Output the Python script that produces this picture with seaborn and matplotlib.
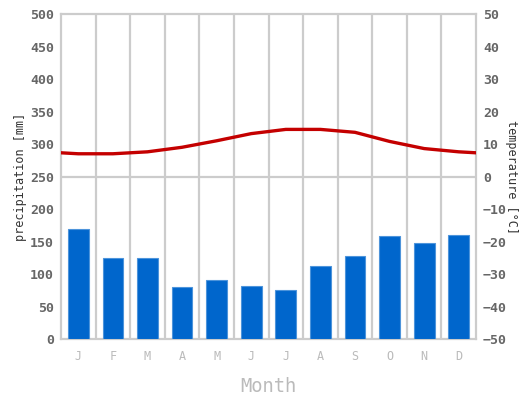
"""Climate chart: monthly precipitation bars with temperature line."""

import pandas as pd
import matplotlib.pyplot as plt
import seaborn as sns

months = ['J', 'F', 'M', 'A', 'M', 'J', 'J', 'A', 'S', 'O', 'N', 'D']
precipitation = [169, 125, 125, 80, 91, 82, 75, 113, 127, 158, 148, 160]
temperature = [7.0, 7.0, 7.6, 9.0, 11.0, 13.2, 14.5, 14.5, 13.6, 10.8, 8.6, 7.6]
precip_ticks = list(range(0, 501, 50))
temp_ticks = list(range(-50, 51, 10))

BAR_COLOR = '#0066cc'
LINE_COLOR = '#c40000'
GRID_COLOR = '#cccccc'
TICK_COLOR = '#666666'
MONTH_COLOR = '#bbbbbb'
FONT = 'DejaVu Sans Mono'

sns.set_style('white')
plt.rcParams['font.family'] = [FONT, 'DejaVu Sans']

pos = list(range(len(months)))
bars = pd.DataFrame({'pos': pos, 'precip': precipitation})

# temperature line runs edge to edge; edges use the Dec/Jan average
edge = (temperature[0] + temperature[-1]) / 2
line = pd.DataFrame({
    'pos': [-0.5] + pos + [len(months) - 0.5],
    'temp': [edge] + temperature + [edge],
})

fig = plt.figure(figsize=(5.26, 4.01), dpi=100)
ax = fig.add_axes([0.116, 0.1546, 0.789, 0.8104])

sns.barplot(data=bars, x='pos', y='precip', color=BAR_COLOR, width=0.6,
            edgecolor='#4d94db', linewidth=0.8, saturation=1, ax=ax,
            native_scale=True, zorder=3)
ax.set_xlim(-0.5, len(months) - 0.5)
ax.set_ylim(0, 500)

# grid: month separators and the middle line
for b in range(1, len(months)):
    ax.axvline(b - 0.5, color=GRID_COLOR, lw=1.6, zorder=1)
ax.axhline(250, color=GRID_COLOR, lw=1.6, zorder=1)
for s in ax.spines.values():
    s.set_color(GRID_COLOR)
    s.set_linewidth(1.6)

ax.set_xticks(pos)
ax.set_xticklabels(months, color=MONTH_COLOR, fontsize=8.5)
ax.set_yticks(precip_ticks)
ax.set_yticklabels([str(t) for t in precip_ticks], color=TICK_COLOR,
                   fontsize=9.5, fontweight='bold')
ax.tick_params(length=0, pad=5)
ax.tick_params(axis='x', pad=8)
ax.set_xlabel('Month', color=MONTH_COLOR, fontsize=13.5, labelpad=10)
ax.set_ylabel('precipitation [mm]', color='#333333', fontsize=8.5, labelpad=2)

ax2 = ax.twinx()
sns.lineplot(data=line, x='pos', y='temp', color=LINE_COLOR, lw=2.4, ax=ax2)
ax2.set_xlim(-0.5, len(months) - 0.5)
ax2.set_ylim(-50, 50)
ax2.set_yticks(temp_ticks)
ax2.set_yticklabels([str(t).replace('-', '\u2212') for t in temp_ticks],
                    color=TICK_COLOR, fontsize=9.5, fontweight='bold')
ax2.tick_params(length=0, pad=5)
ax2.set_ylabel('temperature [°C]', color='#333333', fontsize=8.5,
               rotation=270, labelpad=8)
for s in ax2.spines.values():
    s.set_visible(False)

fig.savefig('out.png', dpi=100)
